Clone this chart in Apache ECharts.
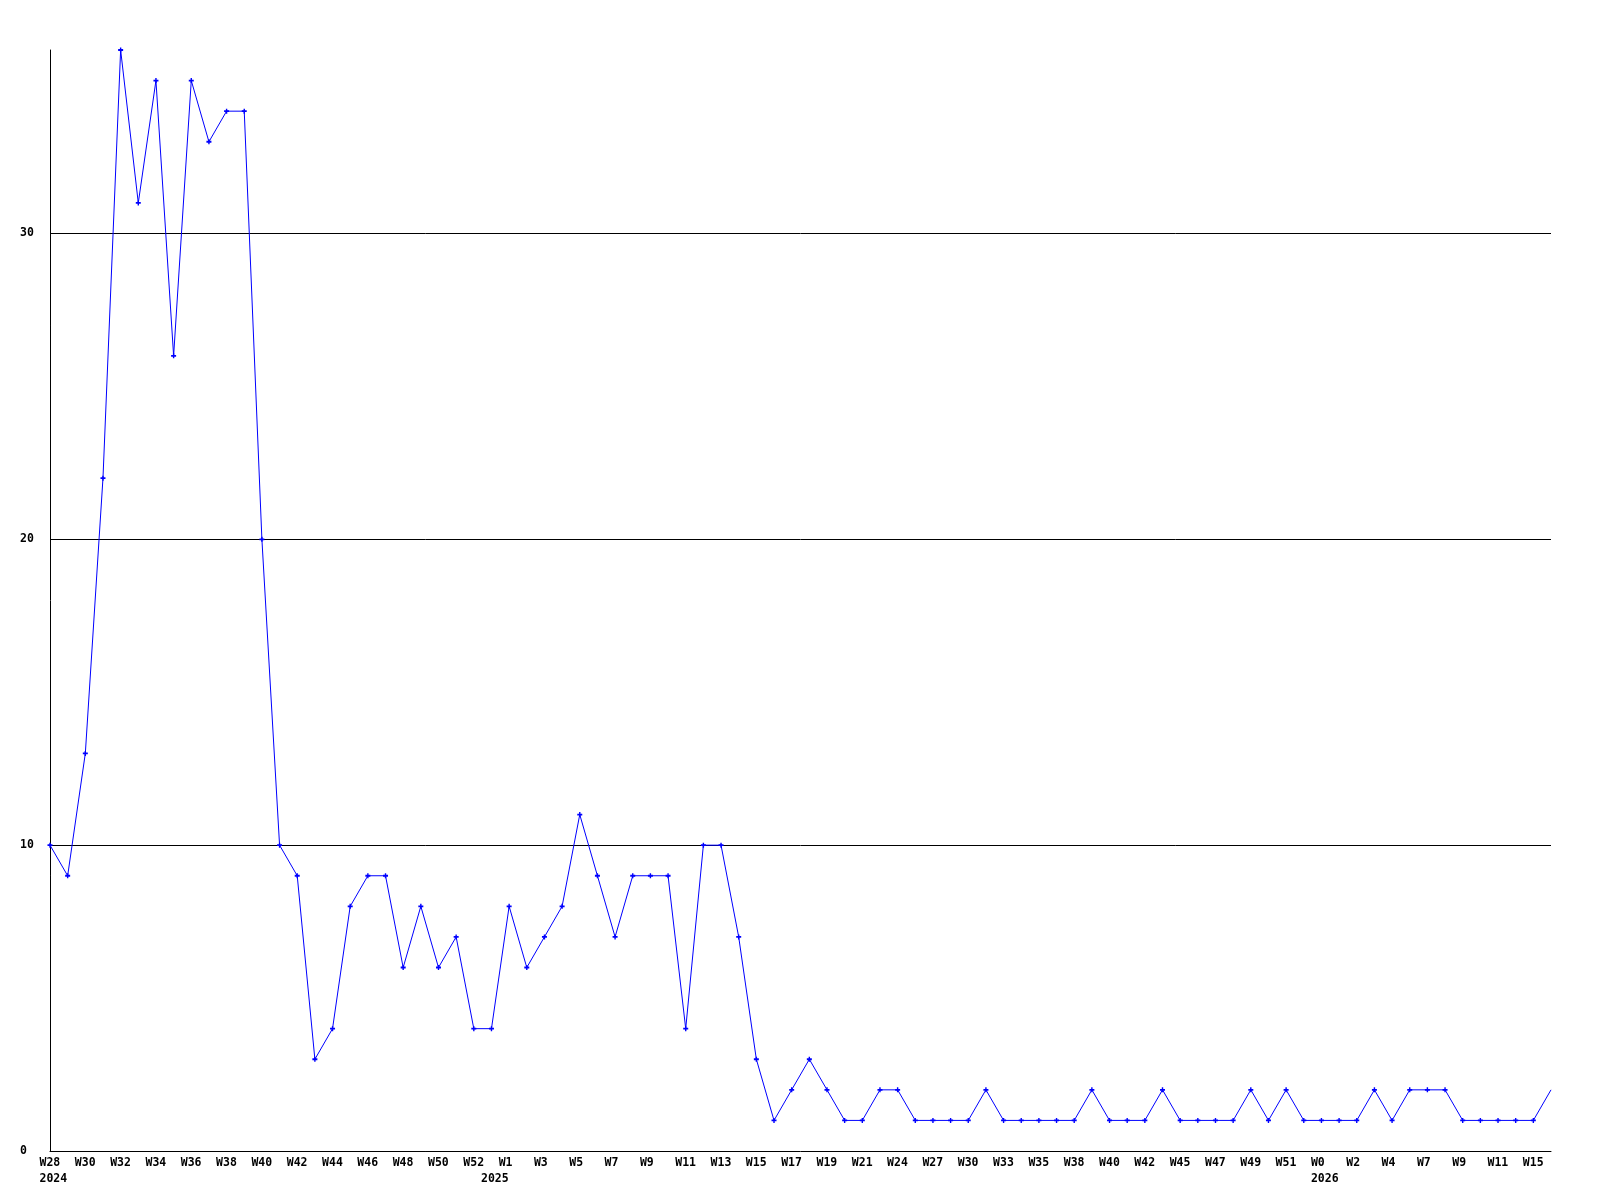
<!DOCTYPE html>
<html><head><meta charset="utf-8">
<script src="https://cdn.jsdelivr.net/npm/echarts@6/dist/echarts.min.js"></script>
<style>html,body{margin:0;padding:0;background:#fff}#c{width:1600px;height:1200px}</style>
</head><body><div id="c"></div>
<script>
// Tick labels: one every second data point (index 0, 2, 4, ...)
const weekLabels = ['W28','W30','W32','W34','W36','W38','W40','W42','W44','W46','W48','W50','W52',
  'W1','W3','W5','W7','W9','W11','W13','W15','W17','W19','W21','W24','W27','W30','W33','W35',
  'W38','W40','W42','W45','W47','W49','W51',
  'W0','W2','W4','W7','W9','W11','W15'];
// Year labels and the data point index at which each year starts
const yearLabels = ['2024','2025','2026'];
const yearPointIndex = [0, 25, 72];
// Series values, one per point
const values = [10,9,13,22,36,31,35,26,35,33,34,34,20,10,9,3,4,8,9,9,
  6,8,6,7,4,4,8,6,7,8,11,9,7,9,9,9,4,10,10,7,
  3,1,2,3,2,1,1,2,2,1,1,1,1,2,1,1,1,1,1,2,
  1,1,1,2,1,1,1,1,2,1,2,1,1,1,1,2,1,2,2,2,
  1,1,1,1,1,2];
const yTickValues = [0,10,20,30];

const FONT = 'DejaVu Sans Mono';
const chart = echarts.init(document.getElementById('c'), null, {renderer: 'canvas'});
const lastIdx = values.length - 1;
const PLUS = 'path://M1.8,0H3.2V1.6H5V3.4H3.2V5H1.8V3.4H0V1.6H1.8Z';
chart.setOption({
  animation: false,
  backgroundColor: '#ffffff',
  grid: {left: 50, right: 49, top: 50, bottom: 49, containLabel: false},
  xAxis: [{
    type: 'value', min: 0, max: lastIdx, interval: 2,
    axisLine: {show: true, lineStyle: {color: '#000', width: 1}},
    axisTick: {show: false},
    splitLine: {show: false},
    axisLabel: {
      show: true, margin: 6, showMaxLabel: false,
      formatter: v => (v % 2 === 0 && weekLabels[v / 2] !== undefined) ? '{a|' + weekLabels[v / 2] + '}' : '',
      rich: {a: {width: 21, align: 'left', fontFamily: FONT, fontWeight: 'bold', fontSize: 11.5, lineHeight: 13, color: '#000'}}
    }
  }, {
    type: 'value', min: 0, max: lastIdx, position: 'bottom', offset: 15.5,
    axisLine: {show: false}, axisTick: {show: false}, splitLine: {show: false},
    axisLabel: {
      show: true, margin: 6, customValues: yearPointIndex,
      formatter: v => { const k = yearPointIndex.indexOf(v); return k >= 0 ? '{a|' + yearLabels[k] + '}' : ''; },
      rich: {a: {width: 21, align: 'left', fontFamily: FONT, fontWeight: 'bold', fontSize: 11.5, lineHeight: 13, color: '#000'}}
    }
  }],
  yAxis: {
    type: 'value', min: 0, max: 36, interval: 10,
    axisLine: {show: true, lineStyle: {color: '#000', width: 1}},
    axisTick: {show: false},
    splitLine: {show: true, showMaxLine: false, showMinLine: false, lineStyle: {color: '#000', width: 1}},
    axisLabel: {
      show: true, align: 'left', margin: 30, showMaxLabel: false,
      formatter: v => yTickValues.indexOf(v) >= 0 ? String(v) : '',
      fontFamily: FONT, fontWeight: 'bold', fontSize: 11.5, color: '#000'
    }
  },
  series: [{
    type: 'line', xAxisIndex: 0,
    data: values.map((v, i) => [i, v]),
    showAllSymbol: true,
    symbol: PLUS,
    symbolSize: (v, p) => p.dataIndex === lastIdx ? 0 : 5,
    lineStyle: {color: '#0000ff', width: 1},
    itemStyle: {color: '#0000ff'},
    emphasis: {disabled: true},
    clip: false
  }]
});
</script>
</body></html>
